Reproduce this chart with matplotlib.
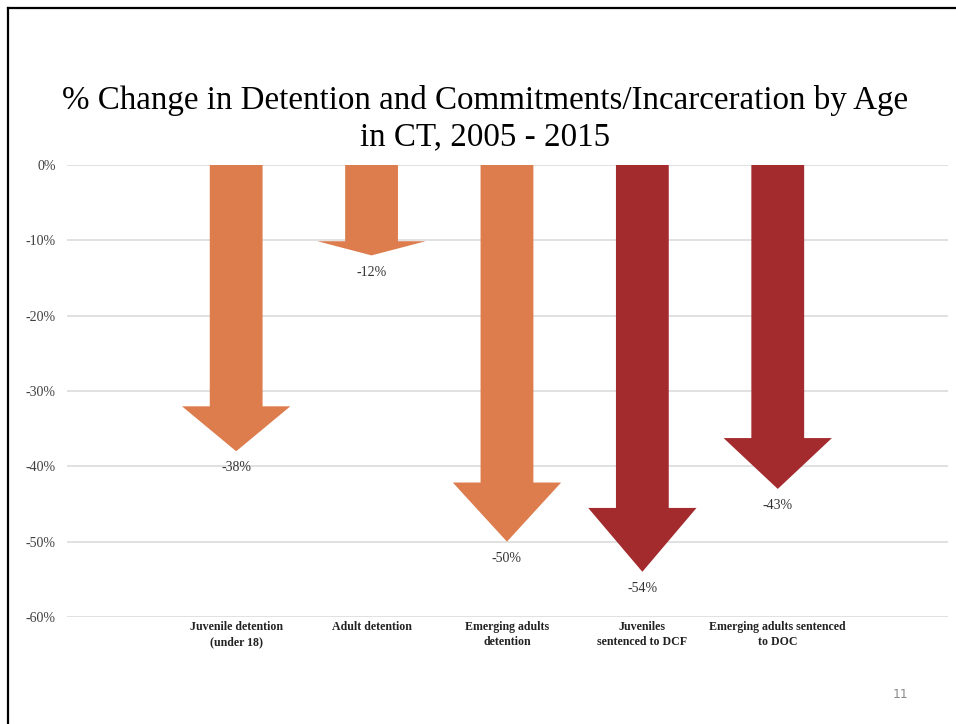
import numpy as np
import matplotlib
matplotlib.use("Agg")
import matplotlib.pyplot as plt
from matplotlib.lines import Line2D

categories = ["Juvenile detention\n(under 18)", "Adult detention", "Emerging adults\ndetention",
              "Juveniles\nsentenced to DCF", "Emerging adults sentenced\nto DOC"]
changes = [-38, -12, -50, -54, -43]
colors = ["#DD7C4C", "#DD7C4C", "#DD7C4C", "#A42B2D", "#A42B2D"]
yticks = [0, -10, -20, -30, -40, -50, -60]

serif = ["Liberation Serif", "DejaVu Serif"]

fig = plt.figure(figsize=(9.56, 7.24), dpi=100)
ax = fig.add_axes([0.070, 0.1478, 0.922, 0.6243])

for i, (v, c) in enumerate(zip(changes, colors)):
    ax.arrow(i, 0, 0, v, width=0.39, head_width=0.80, head_length=abs(v) * 0.157,
             length_includes_head=True, color=c, lw=0, zorder=3)
    ax.annotate(f"{v}%", (i, v), xytext=(0, -12), textcoords="offset points",
                ha="center", va="center", fontsize=10, family=serif, color="#333333")

ax.set_xlim(-1.25, 5.26)
ax.set_ylim(-60, 0)
ax.set_yticks(yticks)
ax.set_yticklabels([f"{t}%" for t in yticks], family=serif, fontsize=10, color="#404040")
ax.set_xticks(range(len(categories)))
ax.set_xticklabels(categories, family=serif, fontsize=8.6, fontweight="bold", color="#222222",
                   linespacing=1.3)
ax.tick_params(axis="y", length=0, pad=8)
ax.tick_params(axis="x", length=0, pad=3)
ax.grid(axis="y", color="#DCDCDC", lw=1.2)
ax.set_axisbelow(True)
for s in ax.spines.values():
    s.set_visible(False)

fig.text(0.507, 0.836, "% Change in Detention and Commitments/Incarceration by Age\nin CT, 2005 - 2015",
         ha="center", va="center", fontsize=23.8, family=serif, linespacing=1.22)
fig.text(0.942, 0.041, "11", ha="center", va="center", fontsize=9, color="#8C8C8C",
         family="DejaVu Sans")

# slide border
fig.add_artist(Line2D([8 / 956, 8 / 956], [0, 1 - 8 / 724], color="black", lw=1.6,
                      transform=fig.transFigure))
fig.add_artist(Line2D([8 / 956, 1], [1 - 8 / 724, 1 - 8 / 724], color="black", lw=1.6,
                      transform=fig.transFigure))

fig.savefig("out.png", dpi=100)
